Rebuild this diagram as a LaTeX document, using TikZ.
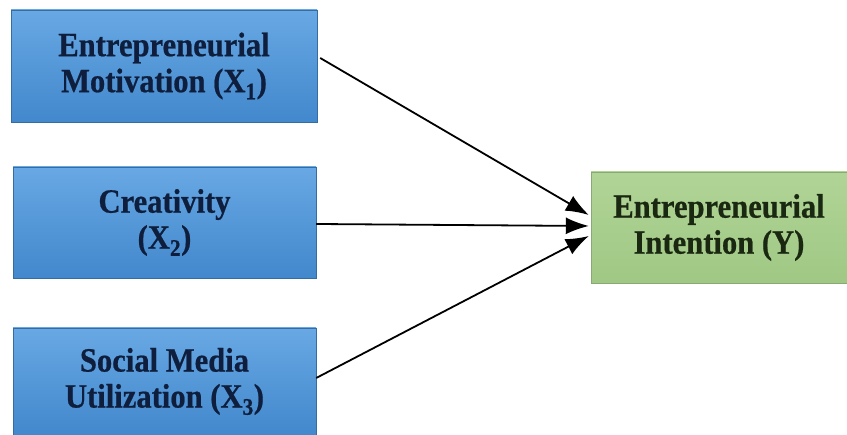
\documentclass[tikz,border=0pt]{standalone}
\usepackage{fontspec}
\setmainfont{Liberation Serif}
\newfontfamily\boxfont[FakeStretch=0.9,FakeBold=0.6]{Liberation Serif}
\usetikzlibrary{arrows.meta}
\definecolor{bluetop}{RGB}{104,168,228}
\definecolor{bluebot}{RGB}{66,136,204}
\definecolor{bluetext}{RGB}{14,30,60}
\definecolor{greentop}{RGB}{176,212,150}
\definecolor{greenbot}{RGB}{160,200,132}
\definecolor{greentext}{RGB}{26,40,18}
\tikzset{
  xbox/.style={rectangle, inner sep=0pt, top color=bluetop, bottom color=bluebot,
    draw=bluebot!80!black, line width=0.4pt,
    text=bluetext, align=center, font=\boxfont\bfseries\fontsize{34}{36}\selectfont},
  ybox/.style={rectangle, inner sep=0pt, top color=greentop, bottom color=greenbot,
    draw=greenbot!85!black, line width=0.4pt,
    text=greentext, align=center, font=\boxfont\bfseries\fontsize{34}{36}\selectfont},
  arr/.style={draw=black, line width=1.8pt, -{Latex[length=23pt,width=17pt]}}
}
\begin{document}
\begin{tikzpicture}[x=1pt,y=1pt]
\fill[white] (0,0) rectangle (847,435);
\useasboundingbox (0,0) rectangle (847,435);
\node[xbox, minimum width=306pt, minimum height=112pt] (b1) at (164,369) {Entrepreneurial\\Motivation (X\textsubscript{1})};
\node[xbox, minimum width=303pt, minimum height=111pt] (b2) at (164.5,212.5) {Creativity\\(X\textsubscript{2})};
\node[xbox, minimum width=303pt, minimum height=107pt] (b3) at (164.5,53.5) {Social Media\\Utilization (X\textsubscript{3})};
\node[ybox, minimum width=256pt, minimum height=111pt] (y) at (719,207.5) {Entrepreneurial\\Intention (Y)};
\draw[arr] ([shift={(3pt,8pt)}]b1.east) -- ([shift={(-2pt,12.5pt)}]y.west);
\draw[arr] ([shift={(0pt,-1.5pt)}]b2.east) -- ([shift={(-2pt,1.5pt)}]y.west);
\draw[arr] ([shift={(0pt,3.5pt)}]b3.east) -- ([shift={(-2pt,-8.5pt)}]y.west);
\end{tikzpicture}
\end{document}
